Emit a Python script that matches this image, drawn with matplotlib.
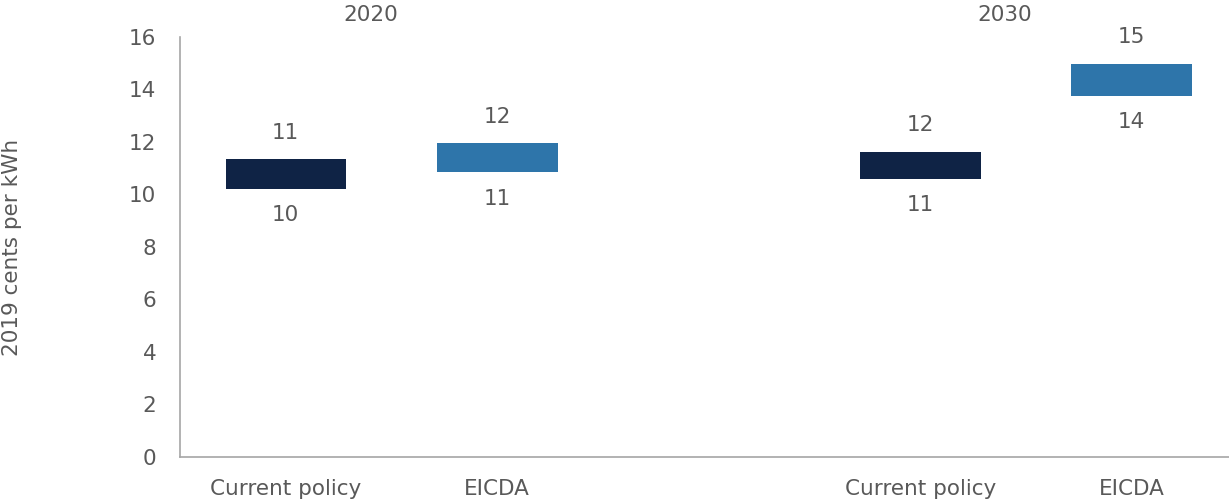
import matplotlib.pyplot as plt

plt.rcParams['font.family'] = ['DejaVu Sans']

# floating bars: low / high cost per scenario, 2019 cents per kWh
scenarios = ['Current policy', 'EICDA', 'Current policy', 'EICDA']
years = ['2020', '2030']
low = [10.22, 10.85, 10.60, 13.76]
high = [11.34, 11.95, 11.63, 14.98]

xpos = [0, 1, 3, 4]
colors = ['#0f2345', '#2e75aa', '#0f2345', '#2e75aa']
text_col = '#595959'
fs = 15.5

fig = plt.figure(figsize=(12.29, 5.04), dpi=100)
ax = fig.add_axes([0.1465, 0.0933, 0.8535, 0.8333])

ax.bar(xpos, [h - l for h, l in zip(high, low)], bottom=low, width=0.57,
       color=colors, edgecolor='none')

for x, lo, hi in zip(xpos, low, high):
    ax.annotate(f'{round(hi)}', (x, hi), xytext=(0, 19), textcoords='offset points',
                ha='center', va='center', fontsize=fs, color=text_col)
    ax.annotate(f'{round(lo)}', (x, lo), xytext=(0, -19), textcoords='offset points',
                ha='center', va='center', fontsize=fs, color=text_col)

# year headers above each pair
for i, yr in enumerate(years):
    xc = (xpos[2 * i] + xpos[2 * i + 1]) / 2 - 0.1
    ax.text(xc, 1.052, yr, transform=ax.get_xaxis_transform(), ha='center',
            va='center', fontsize=fs, color=text_col)

ax.set_ylim(0, 16)
ax.set_yticks(range(0, 17, 2))
ax.set_xlim(-0.5, 4.46)
ax.set_xticks(xpos)
ax.set_xticklabels(scenarios)
ax.tick_params(axis='both', length=0, labelsize=fs, colors=text_col)
ax.tick_params(axis='y', pad=17)
ax.tick_params(axis='x', pad=16)
ax.set_ylabel('2019 cents per kWh', fontsize=fs, color=text_col)
ax.yaxis.set_label_coords(-0.151, 0.5)

for s in ['top', 'right']:
    ax.spines[s].set_visible(False)
for s in ['left', 'bottom']:
    ax.spines[s].set_color('#a6a6a6')
    ax.spines[s].set_linewidth(1.2)

fig.savefig('out.png', dpi=100)
